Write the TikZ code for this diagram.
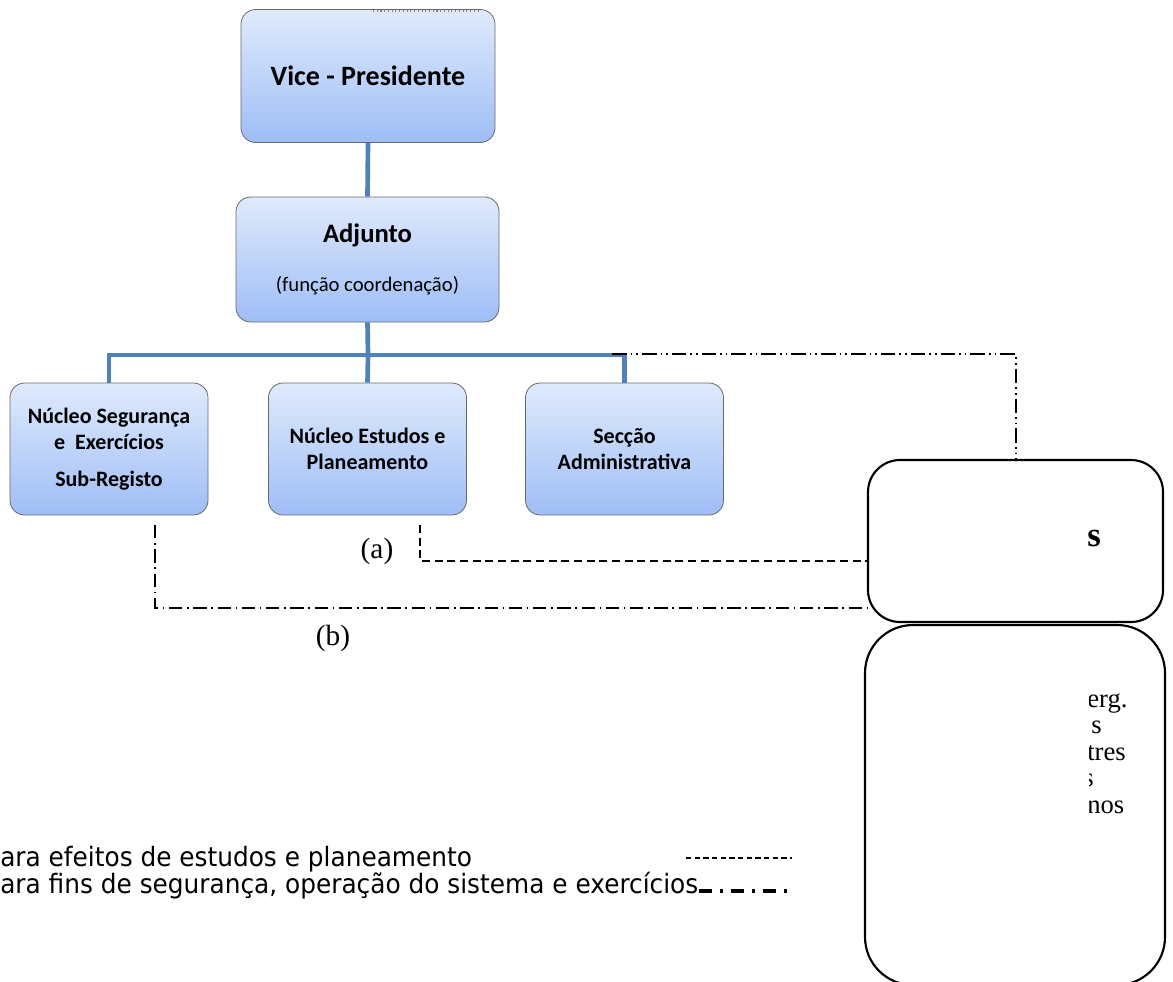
\documentclass[tikz,border=0pt]{standalone}
\usepackage{fontspec}
\setmainfont{Carlito}
\newfontfamily\timesfont{Liberation Serif}
\newfontfamily\legendfont[FakeStretch=0.93]{DejaVu Sans}

\definecolor{boxtop}{RGB}{224,234,252}
\definecolor{boxbottom}{RGB}{158,190,246}
\definecolor{boxedge}{RGB}{105,105,105}
\definecolor{linkblue}{RGB}{79,129,189}

\tikzset{
  orgbox/.style={draw=boxedge,line width=0.6pt,rounded corners=11pt,
    top color=boxtop,bottom color=boxbottom,align=center,inner sep=0pt,
    minimum width=148.5pt,minimum height=99pt,
    font=\bfseries\fontsize{16.5}{19.5}\selectfont},
  link/.style={draw=linkblue,line width=3.5pt},
  roundbox/.style={draw,line width=1.6pt,inner sep=0pt},
  studyline/.style={line width=1.5pt,dash pattern=on 6pt off 3.5pt},
  safetyline/.style={line width=1.5pt,dash pattern=on 10pt off 3.5pt on 1.2pt off 3.5pt},
  adminline/.style={line width=1.5pt,dash pattern=on 11pt off 3pt on 1.2pt off 3pt on 1.2pt off 3pt},
  tag/.style={font=\timesfont\fontsize{22}{26}\selectfont,inner sep=0pt},
  frag/.style={anchor=base west,inner sep=0pt,font=\timesfont\fontsize{20}{21}\selectfont},
  legend/.style={anchor=base west,inner sep=0pt,font=\legendfont\fontsize{20}{24}\selectfont}
}

\begin{document}
\begin{tikzpicture}[x=0.75pt,y=-0.75pt]
  \useasboundingbox (0,0) rectangle (1173,981);

  \node[orgbox,minimum width=190.5pt,minimum height=99.75pt,
        font=\bfseries\fontsize{21}{24}\selectfont] (vp) at (368,76) {Vice - Presidente};
  \draw[gray,dotted,line width=0.8pt] (373,11) -- (480,11);
  \node[orgbox,minimum width=197.25pt,minimum height=93.75pt,font=\fontsize{20}{24}\selectfont]
        (adj) at (367.5,259.5) {\textbf{Adjunto}\\[13pt]{\fontsize{15.5}{18}\selectfont(função coordenação)}};

  \node[orgbox] (nse) at (109,449) {Núcleo Segurança\\e~ Exercícios\\[8pt]Sub-Registo};
  \node[orgbox] (nep) at (367.5,449) {Núcleo Estudos e\\Planeamento};
  \node[orgbox] (sa) at (624.5,449) {Secção\\Administrativa};

  \coordinate (hub) at (368,355);
  \draw[link] (vp.south) -- (adj.north);
  \draw[link] (adj.south) -- (hub);
  \draw[link] (nse.north) |- (hub) -| (sa.north);
  \draw[link] (nep.north) -- (hub);

  \node[roundbox,rounded corners=24pt,minimum width=221.25pt,minimum height=121.5pt]
        (rb1) at (1015.5,541) {};
  \node[roundbox,rounded corners=36pt,minimum width=225pt,minimum height=270pt]
        (rb2) at (1015,805) {};
  \node[anchor=base west,inner sep=0pt,font=\timesfont\bfseries\fontsize{26}{30}\selectfont]
        (rs) at (1087,546) {s};
  \begin{scope}
    \clip (1089,660) rectangle (1160,840);
    \node[frag] (r1) at (1087,707) {erg.};
    \node[frag] (r2) at (1091,733) {s};
    \node[frag] (r3) at (1087,760) {tres};
    \node[frag] (r4) at (1083,786) {s};
    \node[frag] (r5) at (1087,813) {nos};
  \end{scope}

  \coordinate (top0) at (612,354);
  \draw[adminline] (top0) -| (rb1.north);

  \coordinate (a0) at (420,525);
  \coordinate (a1) at (868,561);
  \draw[studyline] (a0) |- (a1);
  \node[tag] (la) at (377,551) {(a)};

  \coordinate (b0) at (155,525);
  \coordinate (b1) at (868,608);
  \draw[safetyline] (b0) |- (b1);
  \node[tag] (lb) at (333,638) {(b)};

  \node[legend] (leg1) at (0,866) {ara efeitos de estudos e planeamento};
  \node[legend] (leg2) at (0,893) {ara fins de segurança, operação do sistema e exercícios};
  \coordinate (d0) at (686,858);
  \coordinate (d1) at (792,858);
  \draw[line width=1pt,dash pattern=on 4pt off 2.5pt] (d0) -- (d1);
  \coordinate (e1) at (790,891);
  \draw[line width=2.5pt,dash pattern=on 10pt off 6pt on 2pt off 6pt] (leg2.base east) ++(0,-2) -- (e1);
\end{tikzpicture}
\end{document}
